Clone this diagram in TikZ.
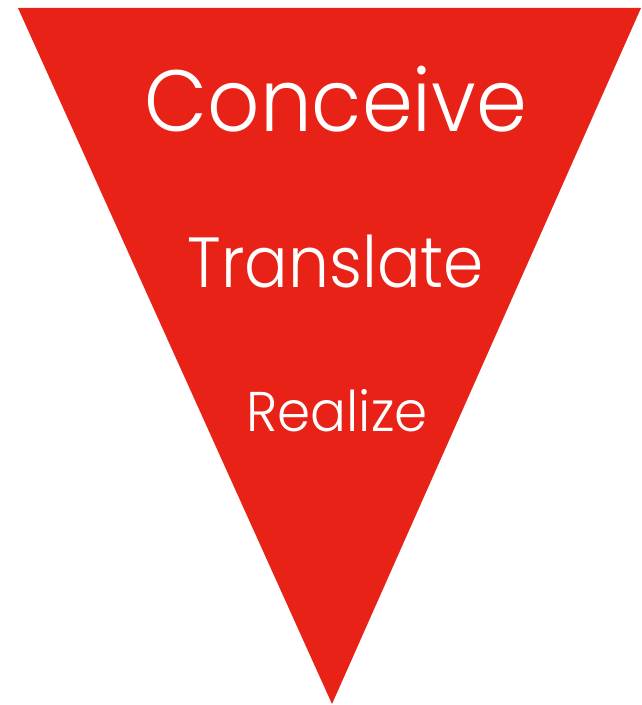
\documentclass[tikz,border=0pt]{standalone}
\usepackage{fontspec}
\setmainfont{Poppins}[UprightFont=* Light]
\definecolor{trired}{RGB}{232,34,22}
\begin{document}
\begin{tikzpicture}[x=1pt,y=1pt,
  lbl/.style={text=white,anchor=base,inner sep=0pt}]
\useasboundingbox (0,0) rectangle (641,705);
\fill[trired] (18,697) -- (641,697) -- (332,1) -- cycle;
\node[lbl,font=\fontsize{87}{87}\selectfont,xscale=0.94] (c) at (336,573) {Conceive};
\node[lbl,font=\fontsize{71}{71}\selectfont,xscale=0.91] (t) at (336,417) {Translate};
\node[lbl,font=\fontsize{56}{56}\selectfont,xscale=0.95] (r) at (337,273) {Realize};
\end{tikzpicture}
\end{document}
